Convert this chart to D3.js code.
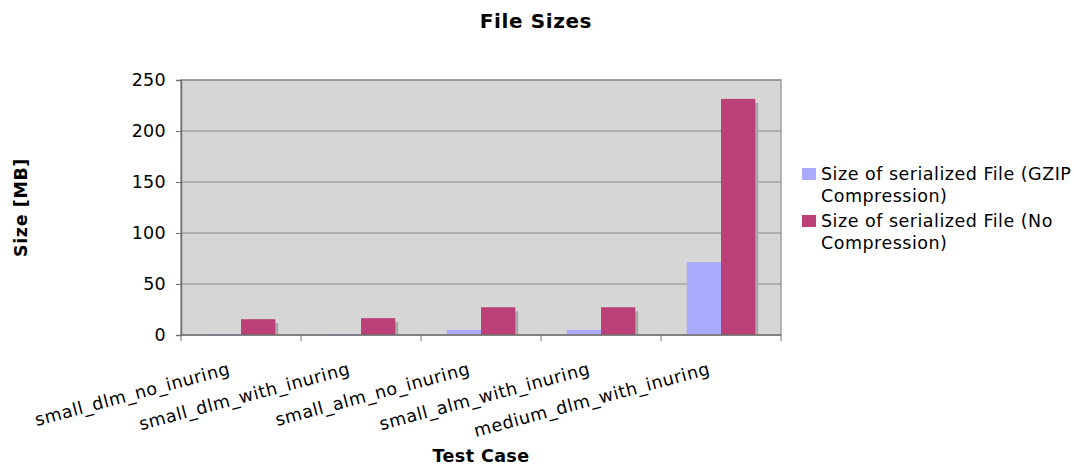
<!DOCTYPE html>
<html>
<head>
<meta charset="utf-8">
<script src="https://cdn.jsdelivr.net/npm/d3@7"></script>
<style>
  body { margin: 0; background: #fff; }
  svg { display: block; font-family: "DejaVu Sans", Verdana, sans-serif; }
</style>
</head>
<body>
<svg id="chart" width="1074" height="466"></svg>
<script>
const categories = ["small_dlm_no_inuring", "small_dlm_with_inuring", "small_alm_no_inuring", "small_alm_with_inuring", "medium_dlm_with_inuring"];
const seriesNames = ["Size of serialized File (GZIP Compression)", "Size of serialized File (No Compression)"];
const legendLines = [["Size of serialized File (GZIP", "Compression)"], ["Size of serialized File (No", "Compression)"]];
const gzipValues = [1, 1, 5, 5, 71.5];
const rawValues = [15.5, 16.5, 27.2, 27.2, 231.5];
const yTicks = [0, 50, 100, 150, 200, 250];
const colors = ["#aaaaff", "#bb4077"];
const titleText = "File Sizes";
const xTitle = "Test Case";
const yTitle = "Size [MB]";

const svg = d3.select("#chart");
const m = { left: 181, right: 781, top: 80, bottom: 335 };

const x0 = d3.scaleBand().domain(categories).range([m.left, m.right]).paddingInner(0).paddingOuter(0);
const x1 = d3.scaleBand().domain(seriesNames).range([0, x0.bandwidth()]).paddingInner(0).paddingOuter(0.75);
const y = d3.scaleLinear().domain([0, 250]).range([m.bottom, m.top]);

// plot background
svg.append("rect").attr("x", m.left).attr("y", m.top)
  .attr("width", m.right - m.left).attr("height", m.bottom - m.top)
  .attr("fill", "#d6d6d6").attr("stroke", "#a0a0a0").attr("stroke-width", 1.5);

// gridlines
svg.append("g").selectAll("line").data(yTicks.filter(d => d > 0)).join("line")
  .attr("x1", m.left).attr("x2", m.right)
  .attr("y1", d => y(d)).attr("y2", d => y(d))
  .attr("stroke", "#8a8a8a").attr("stroke-width", 1.2);

const data = categories.map((c, i) => ({ cat: c, vals: [gzipValues[i], rawValues[i]] }));

// shadows + bars
svg.append("clipPath").attr("id", "plotclip").append("rect")
  .attr("x", m.left).attr("y", m.top).attr("width", m.right - m.left).attr("height", m.bottom - m.top);
const groups = svg.append("g").attr("clip-path", "url(#plotclip)").selectAll("g").data(data).join("g")
  .attr("transform", d => `translate(${x0(d.cat)},0)`);
groups.selectAll("rect.shadow").data(d => d.vals.map((v, k) => ({ v, k }))).join("rect")
  .attr("class", "shadow")
  .attr("x", d => x1(seriesNames[d.k]) + 3)
  .attr("y", d => y(d.v) + 4)
  .attr("width", x1.bandwidth())
  .attr("height", d => Math.max(0, m.bottom - y(d.v)))
  .attr("fill", "#a8a8a8");
groups.selectAll("rect.bar").data(d => d.vals.map((v, k) => ({ v, k }))).join("rect")
  .attr("class", "bar")
  .attr("x", d => x1(seriesNames[d.k]))
  .attr("y", d => y(d.v))
  .attr("width", x1.bandwidth())
  .attr("height", d => m.bottom - y(d.v))
  .attr("fill", d => colors[d.k]);

// y axis
const yAxis = svg.append("g").attr("transform", `translate(${m.left},0)`)
  .call(d3.axisLeft(y).tickValues(yTicks).tickSize(5).tickPadding(10));
yAxis.select(".domain").attr("stroke", "#707070").attr("stroke-width", 1.5);
yAxis.selectAll(".tick line").attr("stroke", "#707070");
yAxis.selectAll(".tick text").attr("font-size", "17.5px").attr("fill", "#000")
  .attr("letter-spacing", "0.3px")
  .attr("font-family", "DejaVu Sans, Verdana, sans-serif");

// x axis
const xAxisLine = svg.append("g").attr("transform", `translate(0,${m.bottom})`);
xAxisLine.append("line").attr("x1", m.left).attr("x2", m.right).attr("y1", 0).attr("y2", 0)
  .attr("stroke", "#707070").attr("stroke-width", 1.5);
const bounds = categories.map(c => x0(c)).concat([m.right]);
xAxisLine.selectAll("line.tick").data(bounds).join("line").attr("class", "tick")
  .attr("x1", d => d).attr("x2", d => d).attr("y1", 0).attr("y2", 6)
  .attr("stroke", "#707070");
svg.append("g").selectAll("text").data(categories).join("text")
  .attr("transform", d => `translate(${x0(d) + x0.bandwidth() / 2 - 10},${m.bottom + 39}) rotate(-15)`)
  .attr("text-anchor", "end")
  .attr("font-size", "17.5px")
  .attr("letter-spacing", "0.6px")
  .text(d => d);

// titles
svg.append("text").attr("x", 536).attr("y", 28).attr("text-anchor", "middle")
  .attr("font-weight", "bold").attr("font-size", "20px").attr("letter-spacing", "0.6px").text(titleText);
svg.append("text").attr("x", (m.left + m.right) / 2).attr("y", 462).attr("text-anchor", "middle")
  .attr("font-weight", "bold").attr("font-size", "17.5px").attr("letter-spacing", "0.4px").text(xTitle);
svg.append("text").attr("transform", `translate(27,${(m.top + m.bottom) / 2}) rotate(-90)`)
  .attr("text-anchor", "middle").attr("font-weight", "bold").attr("font-size", "17.5px")
  .attr("letter-spacing", "0.6px").text(yTitle);

// legend
const leg = svg.append("g").attr("transform", "translate(802,168)");
legendLines.forEach((lines, i) => {
  const g = leg.append("g").attr("transform", `translate(0,${i * 47})`);
  g.append("rect").attr("x", 0).attr("y", 0).attr("width", 14).attr("height", 12).attr("fill", colors[i]);
  lines.forEach((ln, j) => {
    g.append("text").attr("x", 19).attr("y", 12 + j * 22).attr("font-size", "17.5px")
      .attr("letter-spacing", "0.5px").text(ln);
  });
});
</script>
</body>
</html>
